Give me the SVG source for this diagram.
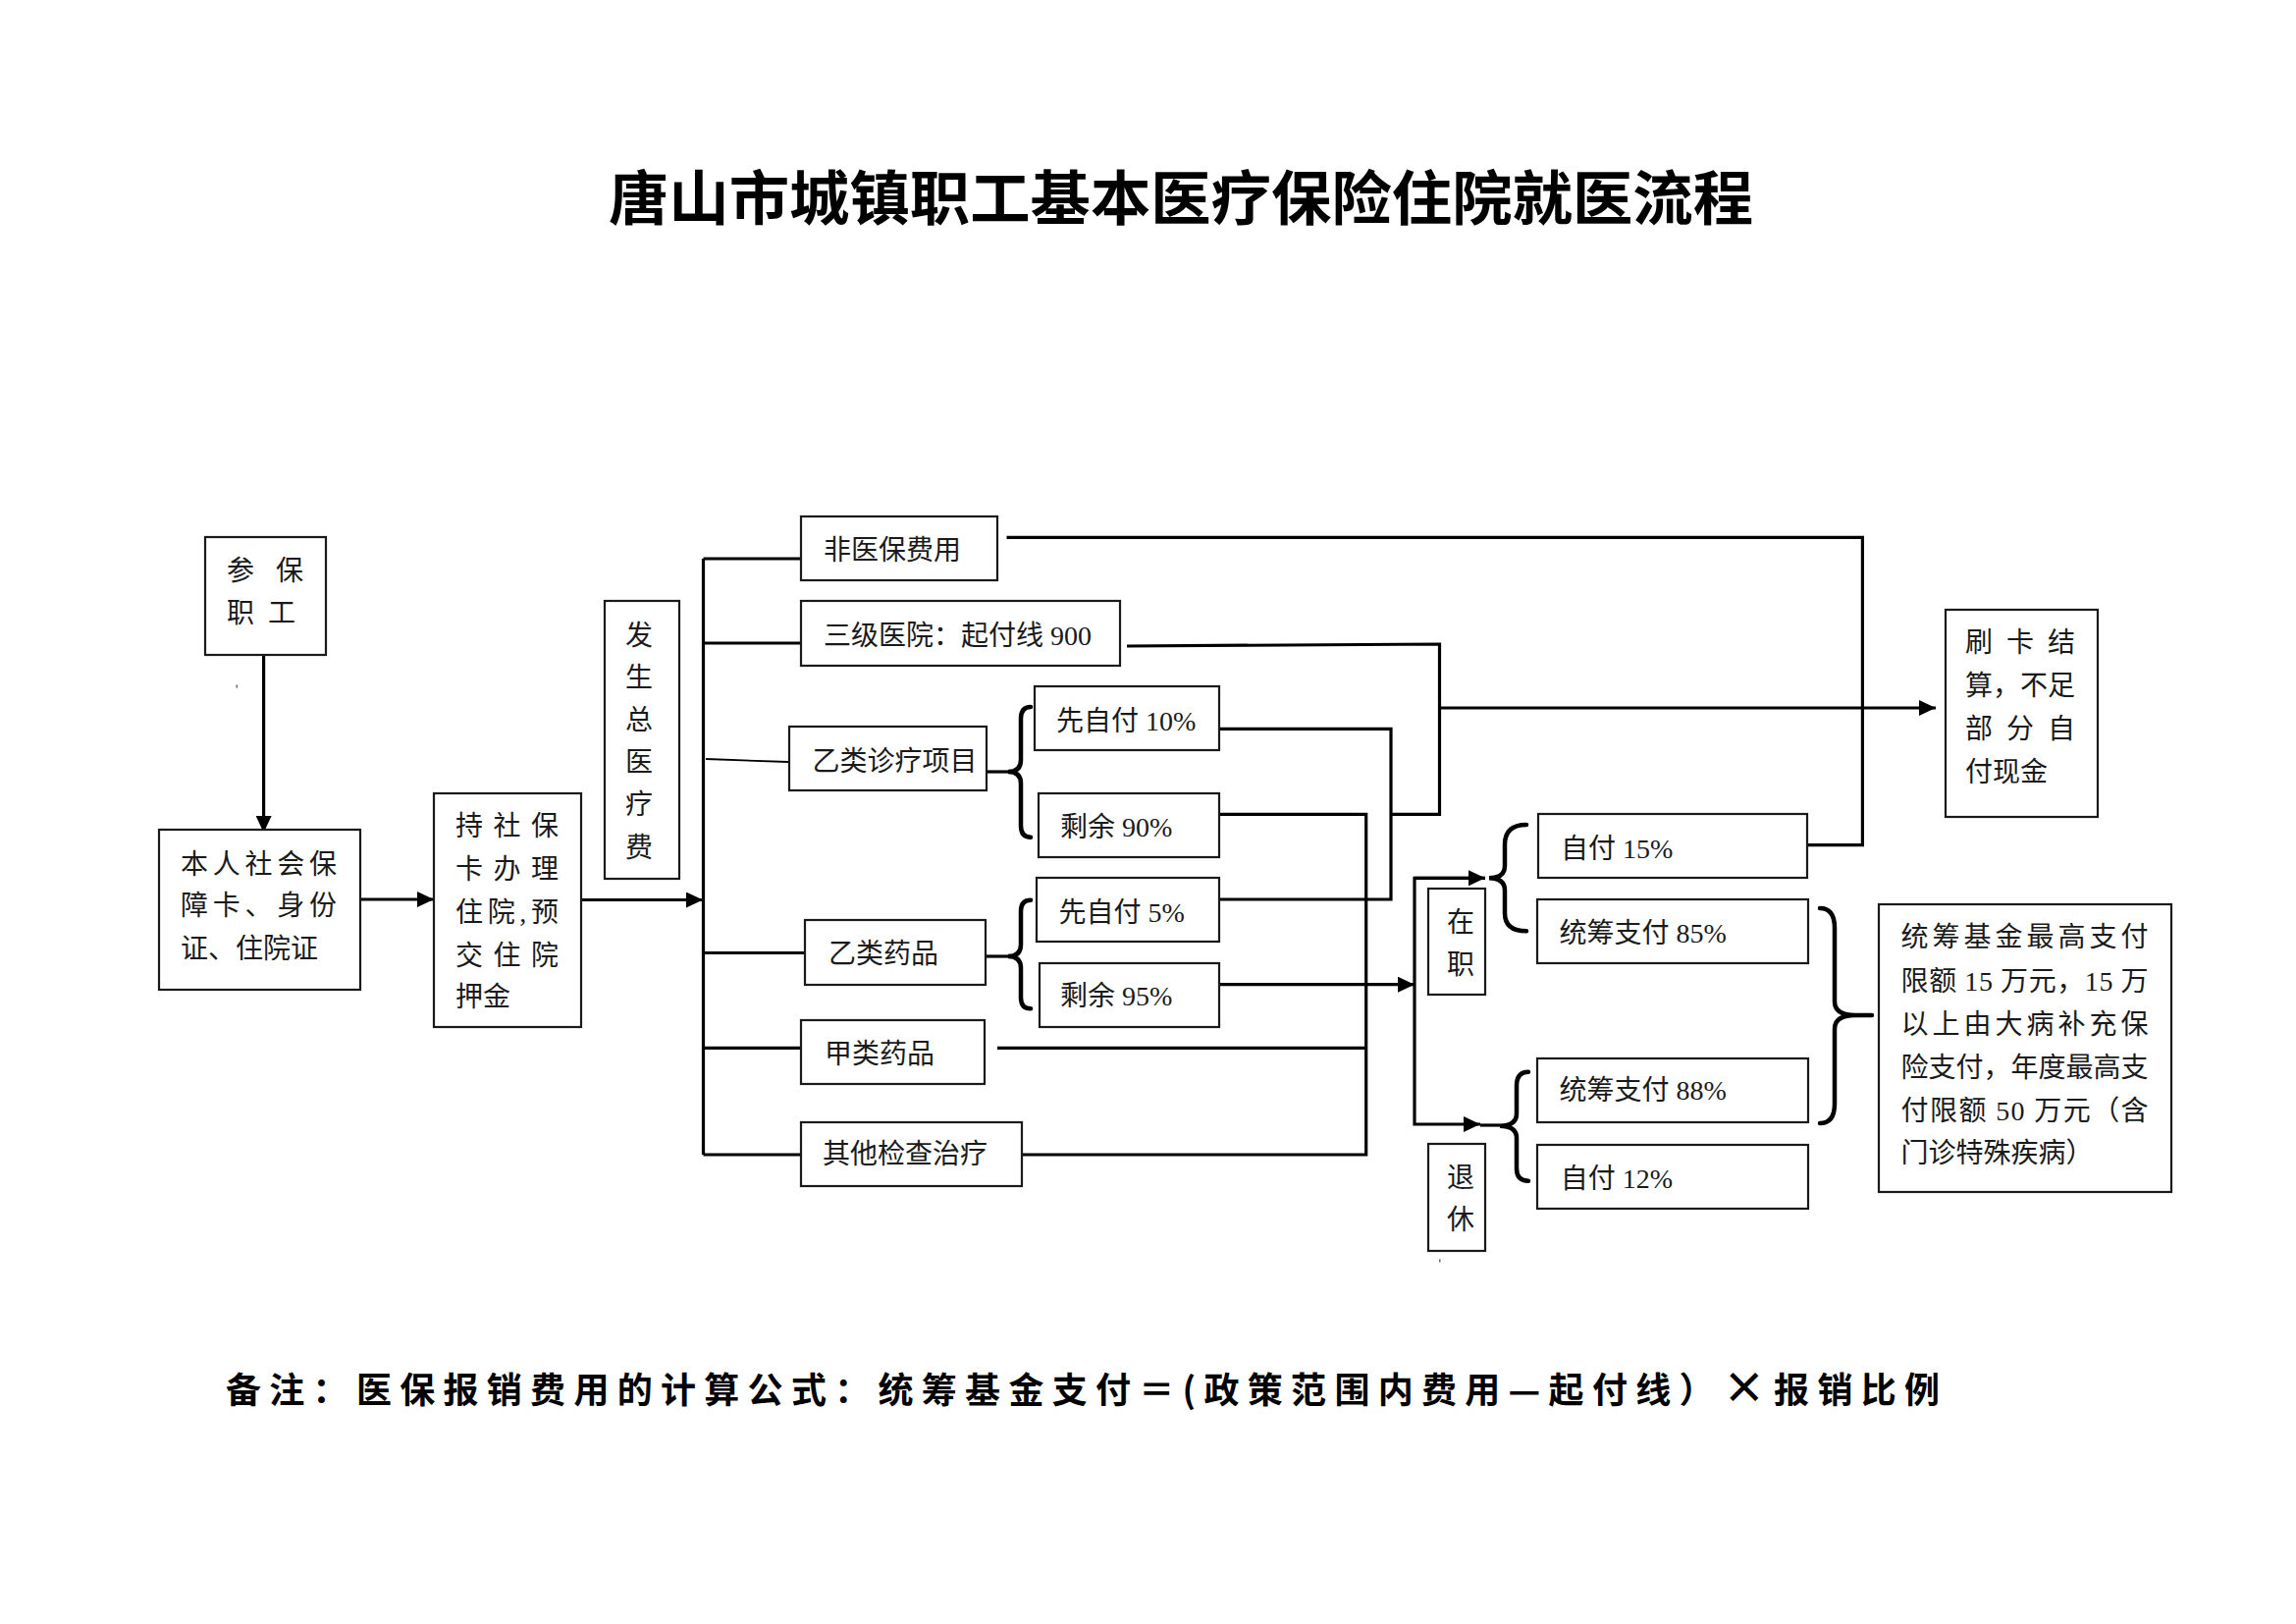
<svg xmlns="http://www.w3.org/2000/svg" width="2339" height="1654" viewBox="0 0 2339 1654">
<style>
.box{fill:#fff;stroke:#1a1a1a;stroke-width:2.2}
.t{font-family:'Liberation Serif','Noto Sans CJK SC',serif;font-size:28px;fill:#1a1a1a}
.vc{text-anchor:middle}
.ln{fill:none;stroke:#000;stroke-width:3.2}
.thin{fill:none;stroke:#000;stroke-width:1.8}
.br{fill:none;stroke:#000;stroke-width:4.5;stroke-linecap:round}
.ttl{font-family:'Noto Sans CJK SC',sans-serif;font-weight:bold;font-size:60px;fill:#000}
.note{font-family:'Noto Sans CJK SC',sans-serif;font-weight:bold;font-size:36px;fill:#000}
</style>
<defs>
<marker id="ah" markerWidth="17" markerHeight="16" refX="17" refY="8" orient="auto" markerUnits="userSpaceOnUse">
<path d="M0,0 L17,8 L0,16 Z" fill="#000"/>
</marker>
</defs>
<rect width="2339" height="1654" fill="#fff"/>

<text class="ttl" x="620" y="224" textLength="1166" lengthAdjust="spacingAndGlyphs">唐山市城镇职工基本医疗保险住院就医流程</text>

<g id="connectors">
<path class="ln" d="M268.6,667 V848" marker-end="url(#ah)"/>
<path class="ln" d="M367,916 H442" marker-end="url(#ah)"/>
<path class="ln" d="M592,916.5 H716" marker-end="url(#ah)"/>
<path class="ln" d="M716.5,569 V1176"/>
<path class="ln" d="M716.5,569 H816"/>
<path class="ln" d="M716.5,655 H816"/>
<path class="thin" d="M719,773 L803,776"/>
<path class="ln" d="M716.5,970.5 H820"/>
<path class="ln" d="M716.5,1067.3 H816"/>
<path class="ln" d="M716.5,1176 H816"/>
<path class="ln" d="M1025.5,547.3 H1897.4 V860.7 H1841"/>
<path class="ln" d="M1148,658 L1466.5,656 V829.3 H1417"/>
<path class="ln" d="M1466.5,721 H1972" marker-end="url(#ah)"/>
<path class="ln" d="M1242,742.3 H1417 V916 H1242"/>
<path class="ln" d="M1242,829.3 H1391.7 V1176 H1041"/>
<path class="ln" d="M1016,1067.3 H1391.7"/>
<path class="ln" d="M1242,1002.7 H1441" marker-end="url(#ah)"/>
<path class="ln" d="M1513,894.3 H1441 V1145 H1508" marker-end="url(#ah)"/>
<path class="ln" d="M1441,894.3 H1513" marker-end="url(#ah)"/>
<path class="ln" d="M1005,786 H1027"/>
<path class="br" d="M1050,720 Q1040,720 1040,732 V774 Q1040,786 1027,786 Q1040,786 1040,798 V841 Q1040,852.7 1050,852.7"/>
<path class="ln" d="M1004,974 H1027"/>
<path class="br" d="M1050,916.7 Q1040,916.7 1040,928 V962 Q1040,974 1027,974 Q1040,974 1040,986 V1016 Q1040,1027.3 1050,1027.3"/>
<path class="br" d="M1555,840 Q1533,840 1533,860 V882 Q1533,894.3 1517,894.3 Q1533,894.3 1533,907 V930 Q1533,948.3 1555,948.3"/>
<path class="ln" d="M1508,1146 H1528"/>
<path class="br" d="M1557,1091.7 Q1545,1091.7 1545,1106 V1134 Q1545,1146.7 1528,1146.7 Q1545,1146.7 1545,1159 V1190 Q1545,1202.7 1557,1202.7"/>
<path class="br" d="M1854,925 Q1869,925 1869,945 V1020 Q1869,1034 1890,1034 H1907 M1890,1034 Q1869,1034 1869,1048 V1124 Q1869,1144 1854,1144"/>
</g>

<g id="n_canbao">
<rect class="box" x="209" y="547" width="123" height="120"/>
<text class="t" x="231" y="591" textLength="78" lengthAdjust="spacing">参保</text>
<text class="t" x="231" y="634" textLength="70" lengthAdjust="spacing">职工</text>
</g>
<rect x="240.5" y="697.5" width="1.5" height="3" fill="#666"/>

<g id="n_benren">
<rect class="box" x="162" y="845" width="205" height="163"/>
<text class="t" x="184" y="890" textLength="159" lengthAdjust="spacing">本人社会保</text>
<text class="t" x="184" y="932" textLength="159" lengthAdjust="spacing">障卡、身份</text>
<text class="t" x="184" y="976">证、住院证</text>
</g>

<g id="n_chi">
<rect class="box" x="442" y="808" width="150" height="238"/>
<text class="t" x="464" y="851" textLength="105" lengthAdjust="spacing">持社保</text>
<text class="t" x="464" y="895" textLength="105" lengthAdjust="spacing">卡办理</text>
<text class="t" x="464" y="939" textLength="105" lengthAdjust="spacing">住院,预</text>
<text class="t" x="464" y="983" textLength="105" lengthAdjust="spacing">交住院</text>
<text class="t" x="464" y="1025">押金</text>
</g>

<g id="n_fasheng">
<rect class="box" x="616" y="612" width="76" height="283"/>
<text class="t vc" x="651" y="656.5">发</text>
<text class="t vc" x="651" y="699.7">生</text>
<text class="t vc" x="651" y="742.9">总</text>
<text class="t vc" x="651" y="786.1">医</text>
<text class="t vc" x="651" y="829.3">疗</text>
<text class="t vc" x="651" y="872.5">费</text>
</g>

<g id="n_feiyibao">
<rect class="box" x="816" y="526" width="200" height="65"/>
<text class="t" x="839" y="569.5">非医保费用</text>
</g>

<g id="n_sanji">
<rect class="box" x="816" y="612" width="325" height="66"/>
<text class="t" x="839" y="657">三级医院：起付线 900</text>
</g>

<g id="n_yizhen">
<rect class="box" x="804" y="740" width="201" height="65"/>
<text class="t" x="827.6" y="785">乙类诊疗项目</text>
</g>

<g id="n_xian10">
<rect class="box" x="1054" y="699" width="188" height="65"/>
<text class="t" x="1076" y="743.5">先自付 10%</text>
</g>

<g id="n_sheng90">
<rect class="box" x="1058" y="808" width="184" height="65"/>
<text class="t" x="1080" y="852">剩余 90%</text>
</g>

<g id="n_yiyao">
<rect class="box" x="820" y="937" width="184" height="66"/>
<text class="t" x="844" y="981">乙类药品</text>
</g>

<g id="n_xian5">
<rect class="box" x="1056" y="894" width="186" height="65"/>
<text class="t" x="1078.6" y="938.5">先自付 5%</text>
</g>

<g id="n_sheng95">
<rect class="box" x="1059" y="981" width="183" height="65"/>
<text class="t" x="1080" y="1023.5">剩余 95%</text>
</g>

<g id="n_jiayao">
<rect class="box" x="816" y="1039" width="187" height="65"/>
<text class="t" x="840" y="1083">甲类药品</text>
</g>

<g id="n_qita">
<rect class="box" x="816" y="1143" width="225" height="65"/>
<text class="t" x="838" y="1185">其他检查治疗</text>
</g>

<g id="n_zaizhi">
<rect class="box" x="1455" y="905" width="58" height="108"/>
<text class="t vc" x="1488" y="949">在</text>
<text class="t vc" x="1488" y="992">职</text>
</g>

<g id="n_tuixiu">
<rect class="box" x="1455" y="1165" width="58" height="109"/>
<text class="t vc" x="1488" y="1209">退</text>
<text class="t vc" x="1488" y="1252">休</text>
</g>
<rect x="1466" y="1282.5" width="1.5" height="3" fill="#666"/>

<g id="n_shuaka">
<rect class="box" x="1982" y="621" width="155" height="211"/>
<text class="t" x="2002" y="664" textLength="112" lengthAdjust="spacing">刷卡结</text>
<text class="t" x="2002" y="708" textLength="112" lengthAdjust="spacing">算，不足</text>
<text class="t" x="2002" y="752" textLength="112" lengthAdjust="spacing">部分自</text>
<text class="t" x="2002" y="796">付现金</text>
</g>

<g id="n_zifu15">
<rect class="box" x="1567" y="829" width="274" height="65"/>
<text class="t" x="1590" y="874">自付 15%</text>
</g>

<g id="n_tong85">
<rect class="box" x="1566" y="916" width="276" height="65"/>
<text class="t" x="1588.6" y="960">统筹支付 85%</text>
</g>

<g id="n_tong88">
<rect class="box" x="1566" y="1078" width="276" height="65"/>
<text class="t" x="1588.6" y="1120">统筹支付 88%</text>
</g>

<g id="n_zifu12">
<rect class="box" x="1566" y="1166" width="276" height="65"/>
<text class="t" x="1589.7" y="1210">自付 12%</text>
</g>

<g id="n_xiane">
<rect class="box" x="1914" y="921" width="298" height="293"/>
<text class="t" x="1936.6" y="964" textLength="252" lengthAdjust="spacing">统筹基金最高支付</text>
<text class="t" x="1936.6" y="1008.5" textLength="252" lengthAdjust="spacing">限额 15 万元，15 万</text>
<text class="t" x="1936.6" y="1053" textLength="252" lengthAdjust="spacing">以上由大病补充保</text>
<text class="t" x="1936.6" y="1097" textLength="252" lengthAdjust="spacing">险支付，年度最高支</text>
<text class="t" x="1936.6" y="1141" textLength="252" lengthAdjust="spacing">付限额 50 万元（含</text>
<text class="t" x="1936.6" y="1183.5">门诊特殊疾病）</text>
</g>

<text class="note" x="230" y="1429" textLength="1746" lengthAdjust="spacing">备注：医保报销费用的计算公式：统筹基金支付＝(政策范围内费用—起付线）<tspan font-size="44">×</tspan>报销比例</text>
</svg>
